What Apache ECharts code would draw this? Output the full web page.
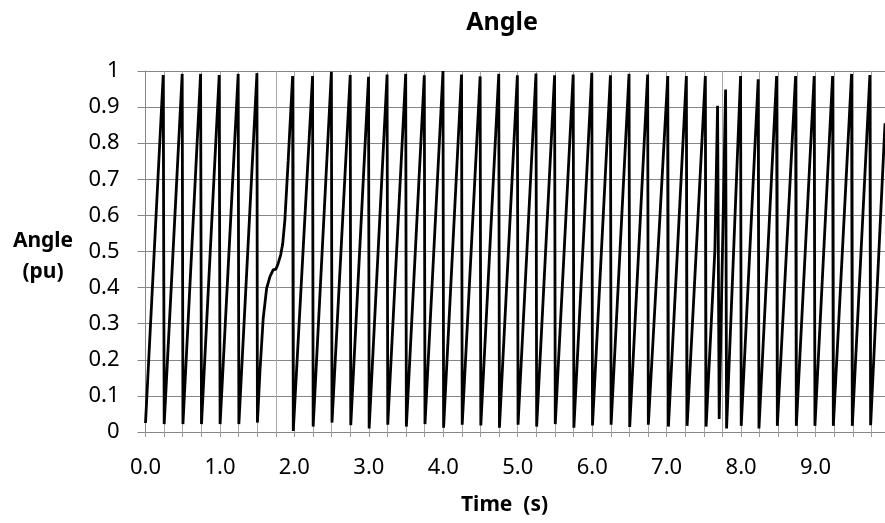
<!DOCTYPE html>
<html>
<head>
<meta charset="utf-8">
<script src="https://cdn.jsdelivr.net/npm/echarts@6/dist/echarts.min.js"></script>
<style>
html,body{margin:0;padding:0;background:#fff;}
#chart{width:885px;height:523px;}
</style>
</head>
<body>
<div id="chart"></div>
<script>
// Data
var chartTitle = 'Angle';
var xAxisTitle = 'Time  (s)';
var yAxisTitle = 'Angle\n(pu)';
var yTicks = [0, 0.1, 0.2, 0.3, 0.4, 0.5, 0.6, 0.7, 0.8, 0.9, 1];
var xTickLabels = ['0.0','1.0','2.0','3.0','4.0','5.0','6.0','7.0','8.0','9.0'];

var timeValues = [
  0.000, 0.238, 0.251, 0.493, 0.503, 0.740, 0.752, 0.990, 1.002, 1.245, 1.254, 1.497,
  1.503, 1.537, 1.581, 1.627, 1.671, 1.715, 1.751, 1.782, 1.815, 1.842, 1.872, 1.917, 1.976,
  1.985, 2.244, 2.252, 2.497, 2.505, 2.750, 2.757, 2.996, 3.004, 3.245, 3.254, 3.495,
  3.504, 3.745, 3.754, 3.996, 4.004, 4.245, 4.254, 4.495, 4.504, 4.745, 4.754, 4.995,
  5.004, 5.245, 5.254, 5.495, 5.504, 5.745, 5.754, 5.995, 6.004, 6.245, 6.254, 6.495,
  6.504, 6.745, 6.754, 7.015, 7.024, 7.265, 7.275, 7.520, 7.530, 7.648, 7.684, 7.706,
  7.792, 7.805, 7.993, 8.002, 8.230, 8.240, 8.477, 8.487, 8.732, 8.742, 8.982, 8.992,
  9.229, 9.239, 9.484, 9.494, 9.730, 9.740, 9.933
];
var angleValues = [
  0.025, 0.989, 0.022, 0.992, 0.022, 0.992, 0.022, 0.989, 0.022, 0.992, 0.022, 0.994,
  0.026, 0.167, 0.315, 0.398, 0.430, 0.449, 0.451, 0.467, 0.490, 0.520, 0.587, 0.753, 0.986,
  0.003, 0.986, 0.015, 0.998, 0.026, 0.989, 0.019, 0.984, 0.010, 0.990, 0.020, 0.992,
  0.015, 0.988, 0.022, 1.000, 0.012, 0.990, 0.020, 0.985, 0.018, 0.992, 0.012, 0.988,
  0.020, 0.993, 0.015, 0.988, 0.022, 0.990, 0.012, 0.995, 0.018, 0.988, 0.020, 0.992,
  0.014, 0.990, 0.020, 0.986, 0.015, 0.986, 0.017, 0.986, 0.015, 0.504, 0.904, 0.036,
  0.949, 0.010, 0.986, 0.017, 0.977, 0.010, 0.986, 0.017, 0.986, 0.017, 0.986, 0.017,
  0.986, 0.017, 0.992, 0.017, 0.989, 0.019, 0.855
];

var seriesData = timeValues.map(function (t, i) { return [t, angleValues[i]]; });

var FONT = 'Noto Sans';
var chart = echarts.init(document.getElementById('chart'), null, {renderer: 'canvas'});
chart.setOption({
  animation: false,
  backgroundColor: '#ffffff',
  title: {
    text: chartTitle,
    left: 497, top: 5, textAlign: 'center',
    textStyle: {fontFamily: FONT, fontSize: 25, fontWeight: 'bold', color: '#000'}
  },
  grid: {left: 145.5, right: 0, top: 71, bottom: 91, containLabel: false},
  xAxis: {
    type: 'value', min: 0, max: 9.933, interval: 0.25,
    axisLine: {show: true, onZero: false, lineStyle: {color: '#868686', width: 1}},
    axisTick: {show: true, inside: false, length: 5, lineStyle: {color: '#9a9a9a'}},
    axisLabel: {
      margin: 25, fontFamily: FONT, fontSize: 22, color: '#000',
      showMaxLabel: false,
      formatter: function (v) {
        var r = Math.round(v);
        if (Math.abs(v - r) < 1e-6 && r >= 0 && r < xTickLabels.length) return xTickLabels[r];
        return '';
      }
    },
    splitLine: {show: true, lineStyle: {color: '#a8a8a8', width: 1}}
  },
  yAxis: {
    type: 'value', min: yTicks[0], max: yTicks[yTicks.length - 1], interval: 0.1,
    axisLine: {show: true, lineStyle: {color: '#868686', width: 1}},
    axisTick: {show: true, inside: false, length: 8, lineStyle: {color: '#868686'}},
    axisLabel: {
      margin: 26, fontFamily: FONT, fontSize: 22, color: '#000',
      formatter: function (v) { return String(Math.round(v * 10) / 10); }
    },
    splitLine: {show: true, lineStyle: {color: '#868686', width: 1}}
  },
  graphic: [
    {type: 'text', left: 3, top: 226, style: {text: yAxisTitle, width: 80, align: 'center',
      x: 40, textAlign: 'center', font: 'bold 21px "Noto Sans"', fill: '#000', lineHeight: 31}},
    {type: 'text', left: 461, top: 495, style: {text: xAxisTitle,
      font: 'bold 21px "Noto Sans"', fill: '#000'}}
  ],
  series: [{
    type: 'line', data: seriesData, showSymbol: false, symbol: 'none',
    lineStyle: {color: '#000', width: 2.8}, clip: true
  }]
});
</script>
</body>
</html>
